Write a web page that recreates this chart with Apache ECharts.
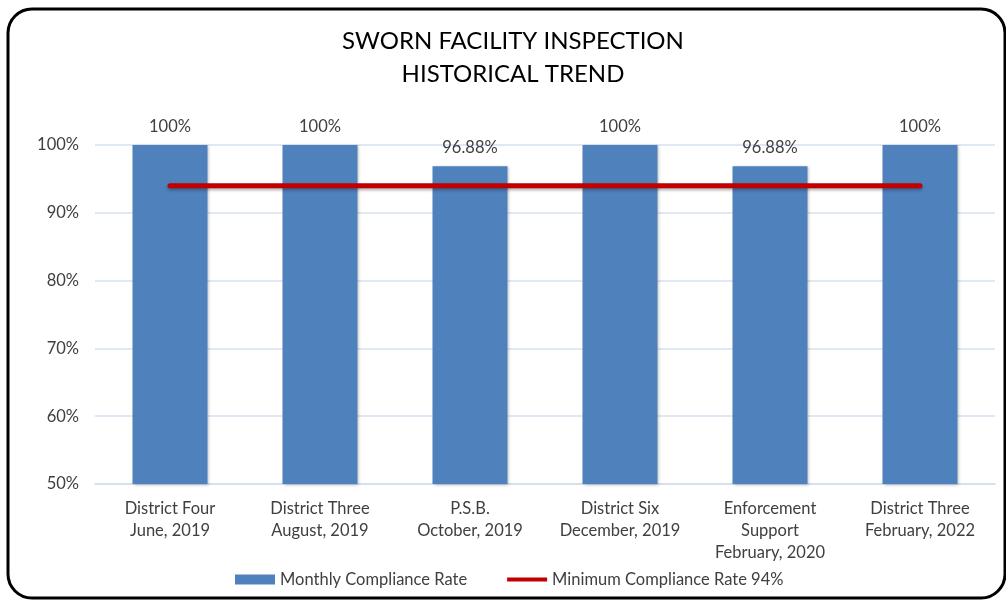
<!DOCTYPE html>
<html>
<head>
<meta charset="utf-8">
<style>
html,body{margin:0;padding:0;background:#fff;}
#c{width:1006px;height:602px;}
</style>
<script src="https://cdn.jsdelivr.net/npm/echarts@6/dist/echarts.min.js"></script>
</head>
<body>
<div id="c"></div>
<script>
const categories = [
  'District Four\nJune, 2019',
  'District Three\nAugust, 2019',
  'P.S.B.\nOctober, 2019',
  'District Six\nDecember, 2019',
  'Enforcement\nSupport\nFebruary, 2020',
  'District Three\nFebruary, 2022'
];
const complianceRate = [100, 100, 96.88, 100, 96.88, 100];
const minimumRate = [94, 94, 94, 94, 94, 94];
const yTicks = {min: 50, max: 100, interval: 10};

const font = 'Lato, "Open Sans", sans-serif';
const fs = 16.5;
const chart = echarts.init(document.getElementById('c'), null, {renderer: 'canvas'});
chart.setOption({
  animation: false,
  textStyle: {fontFamily: font},
  title: {
    text: 'SWORN FACILITY INSPECTION\nHISTORICAL TREND',
    left: 508, top: 20, textAlign: 'center',
    textStyle: {fontFamily: font, fontSize: 24, fontWeight: 'normal', color: '#000', lineHeight: 33}
  },
  graphic: [{
    type: 'rect', silent: true, z: 100,
    shape: {x: 8, y: 9, width: 997, height: 589, r: 24},
    style: {fill: 'none', stroke: '#000', lineWidth: 3}
  }],
  legend: {
    left: 230, top: 566,
    itemWidth: 40, itemHeight: 10, itemGap: 40,
    textStyle: {fontFamily: font, fontSize: fs, color: '#404040'},
    data: [
      {name: 'Monthly Compliance Rate', icon: 'rect'},
      {name: 'Minimum Compliance Rate 94%', icon: 'path://M0,0 M0,3 L40,3 L40,7 L0,7 Z M40,10'}
    ]
  },
  grid: {left: 95, right: 11, top: 145, bottom: 118, containLabel: false},
  xAxis: {
    type: 'category', data: categories,
    axisLine: {lineStyle: {color: '#D0DCEE', width: 1.5}},
    axisTick: {show: false},
    axisLabel: {fontFamily: font, fontSize: fs, color: '#404040', lineHeight: 22, margin: 14, interval: 0}
  },
  yAxis: {
    type: 'value', min: yTicks.min, max: yTicks.max, interval: yTicks.interval,
    axisLine: {show: false}, axisTick: {show: false},
    splitLine: {lineStyle: {color: '#D6E0F0', width: 1.5}},
    axisLabel: {fontFamily: font, fontSize: fs, color: '#404040', margin: 16, formatter: '{value}%'}
  },
  series: [
    {
      name: 'Monthly Compliance Rate', type: 'bar', data: complianceRate,
      barWidth: '50%',
      itemStyle: {color: '#4F81BD', shadowColor: 'rgba(0,0,0,0.25)', shadowBlur: 3, shadowOffsetX: 1, shadowOffsetY: 1},
      label: {
        show: true, position: 'top', distance: 10,
        fontFamily: font, fontSize: fs, color: '#404040',
        formatter: p => (Number.isInteger(p.value) ? p.value : p.value.toFixed(2)) + '%'
      }
    },
    {
      name: 'Minimum Compliance Rate 94%', type: 'line', data: minimumRate,
      symbol: 'none',
      lineStyle: {color: '#C00000', width: 5, cap: 'round', shadowColor: 'rgba(0,0,0,0.3)', shadowBlur: 3, shadowOffsetY: 2},
      itemStyle: {color: '#C00000'}
    }
  ]
});
</script>
</body>
</html>
